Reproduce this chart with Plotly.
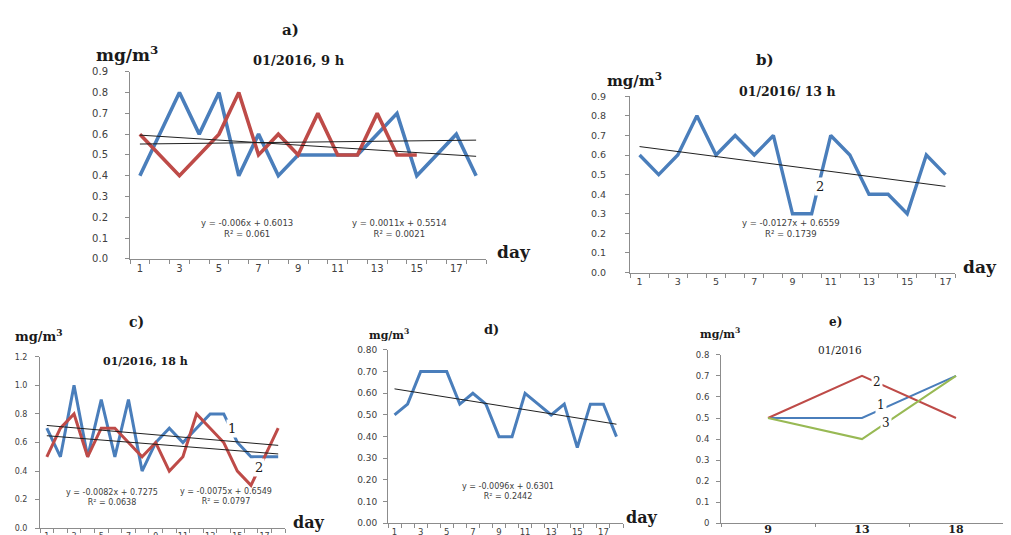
import plotly.graph_objects as go

W, H = 1011, 535

# ---------------- data ----------------
days_a = list(range(1, 19))
a_blue = [0.4, 0.6, 0.8, 0.6, 0.8, 0.4, 0.6, 0.4, 0.5, 0.5, 0.5, 0.5, 0.6, 0.7, 0.4, 0.5, 0.6, 0.4]
days_a_red = list(range(1, 16))
a_red = [0.6, 0.5, 0.4, 0.5, 0.6, 0.8, 0.5, 0.6, 0.5, 0.7, 0.5, 0.5, 0.7, 0.5, 0.5]
a_trend = [(-0.006, 0.6013), (0.0011, 0.5514)]
a_eq = ["y = -0.006x + 0.6013<br>R² = 0.061", "y = 0.0011x + 0.5514<br>R² = 0.0021"]

days_b = list(range(1, 18))
b_blue = [0.6, 0.5, 0.6, 0.8, 0.6, 0.7, 0.6, 0.7, 0.3, 0.3, 0.7, 0.6, 0.4, 0.4, 0.3, 0.6, 0.5]
b_trend = (-0.0127, 0.6559)
b_eq = "y = -0.0127x + 0.6559<br>R² = 0.1739"

days_c = list(range(1, 19))
c_blue = [0.7, 0.5, 1.0, 0.5, 0.9, 0.5, 0.9, 0.4, 0.6, 0.7, 0.6, 0.7, 0.8, 0.8, 0.6, 0.5, 0.5, 0.5]
c_red = [0.5, 0.7, 0.8, 0.5, 0.7, 0.7, 0.6, 0.5, 0.6, 0.4, 0.5, 0.8, 0.7, 0.6, 0.4, 0.3, 0.5, 0.7]
c_trend = [(-0.0082, 0.7275), (-0.0075, 0.6549)]
c_eq = ["y = -0.0082x + 0.7275<br>R² = 0.0638", "y = -0.0075x + 0.6549<br>R² = 0.0797"]

days_d = list(range(1, 19))
d_blue = [0.50, 0.55, 0.70, 0.70, 0.70, 0.55, 0.60, 0.55, 0.40, 0.40, 0.60, 0.55, 0.50, 0.55, 0.35, 0.55, 0.55, 0.40]
d_trend = (-0.0096, 0.6301)
d_eq = "y = -0.0096x + 0.6301<br>R² = 0.2442"

hours_e = ["9", "13", "18"]
e_s1 = [0.5, 0.5, 0.7]
e_s2 = [0.5, 0.7, 0.5]
e_s3 = [0.5, 0.4, 0.7]

BLUE = "#4A7EBB"
RED = "#BE4B48"
GREEN = "#98B954"
AXC = "#8C8C8C"
TXT = "#404040"
SERIF = "DejaVu Serif"
SANS = "DejaVu Sans"


def pp(x, y):
    return x / W, 1 - y / H


def trend_pts(days, coef):
    m, b = coef
    xs = [days[0], days[-1]]
    return xs, [m * x + b for x in xs]


fig = go.Figure()


def line(x, y, ax, color, width=3.2):
    fig.add_trace(go.Scatter(x=x, y=y, xaxis="x" + ax, yaxis="y" + ax, mode="lines",
                             line=dict(color=color, width=width), hoverinfo="skip"))


def trend(days, coef, ax):
    xs, ys = trend_pts(days, coef)
    fig.add_trace(go.Scatter(x=xs, y=ys, xaxis="x" + ax, yaxis="y" + ax, mode="lines",
                             line=dict(color="#202020", width=1), hoverinfo="skip"))


# panel a
line(days_a, a_blue, "", BLUE, 3.6)
line(days_a_red, a_red, "", RED, 3.6)
for c in a_trend:
    trend(days_a, c, "")
# panel b
line(days_b, b_blue, "2", BLUE, 3.4)
trend(days_b, b_trend, "2")
# panel c
line(days_c, c_blue, "3", BLUE, 3)
line(days_c, c_red, "3", RED, 3)
for c in c_trend:
    trend(days_c, c, "3")
# panel d
line(days_d, d_blue, "4", BLUE, 3)
trend(days_d, d_trend, "4")
# panel e
line(hours_e, e_s1, "5", BLUE, 2)
line(hours_e, e_s2, "5", RED, 2)
line(hours_e, e_s3, "5", GREEN, 2)


def day_xaxis(x0, x1, ndays, yname, fsize):
    return dict(domain=[x0 / W, x1 / W], range=[0.5, ndays + 0.5], anchor=yname,
                tickmode="array", tickvals=list(range(1, ndays + 1, 2)), ticks="",
                minor=dict(tickmode="linear", tick0=0.5, dtick=1, ticks="outside",
                           ticklen=4, tickcolor=AXC, tickwidth=1),
                showline=True, linecolor=AXC, linewidth=1, showgrid=False, zeroline=False,
                tickfont=dict(family=SANS, size=fsize, color=TXT), fixedrange=True)


def val_yaxis(y0, y1, top, dt, fmt, xname, fsize, standoff):
    return dict(domain=[1 - y0 / H, 1 - y1 / H], range=[0, top], anchor=xname,
                tickmode="linear", tick0=0, dtick=dt, tickformat=fmt, ticks="outside",
                ticklen=4, tickcolor=AXC, showline=True, linecolor=AXC, linewidth=1,
                showgrid=False, zeroline=False, ticklabelstandoff=standoff,
                tickfont=dict(family=SANS, size=fsize, color=TXT), fixedrange=True)


layout = dict(
    width=W, height=H, margin=dict(l=0, r=0, t=0, b=0),
    paper_bgcolor="white", plot_bgcolor="white", showlegend=False,
    xaxis=day_xaxis(122, 478, 18, "y", 10),
    yaxis=val_yaxis(250, 59, 0.9, 0.1, ".1f", "x", 10, 15),
    xaxis2=day_xaxis(622, 947, 17, "y2", 9.5),
    yaxis2=val_yaxis(264, 84, 0.9, 0.1, ".1f", "x2", 9.5, 17),
    xaxis3=day_xaxis(32, 277, 18, "y3", 8),
    yaxis3=val_yaxis(525, 350, 1.2, 0.2, ".1f", "x3", 8, 6),
    xaxis4=day_xaxis(380, 615, 18, "y4", 8.5),
    yaxis4=val_yaxis(520, 343, 0.8, 0.1, ".2f", "x4", 9, 4),
    xaxis5=dict(domain=[713 / W, 995 / W], type="category", range=[-0.5, 2.5], anchor="y5",
                tickson="boundaries", ticks="outside", ticklen=3, tickcolor=AXC,
                showline=True, linecolor=AXC, showgrid=False, zeroline=False,
                ticklabelstandoff=-5,
                tickfont=dict(family=SERIF, size=11, color="#202020", weight="bold"), fixedrange=True),
    yaxis5=val_yaxis(520, 348, 0.8, 0.1, "", "x5", 8.5, 5),
)
fig.update_layout(**layout)

ann = []


def txt(x, y, s, size, family=SERIF, bold=True, color="#1a1a1a", xanchor="center"):
    px_, py_ = pp(x, y)
    ann.append(dict(x=px_, y=py_, xref="paper", yref="paper", text=s, showarrow=False,
                    xanchor=xanchor, yanchor="middle",
                    font=dict(family=family, size=size, color=color,
                              weight="bold" if bold else "normal")))


def eq(x, y, s, size=8.5):
    px_, py_ = pp(x, y)
    ann.append(dict(x=px_, y=py_, xref="paper", yref="paper", text=s, showarrow=False,
                    xanchor="center", yanchor="middle", align="center",
                    font=dict(family=SANS, size=size, color=TXT)))


def dlabel(x, y, ax, s, size=13):
    ann.append(dict(x=x, y=y, xref="x" + ax, yref="y" + ax, text=s, showarrow=False,
                    bgcolor="white", borderpad=1,
                    font=dict(family=SERIF, size=size, color="#1a1a1a")))


MG = "mg/m<sup>3</sup>"
# panel a
txt(282, 16, "a)", 15)
txt(119, 41, MG, 17)
txt(291, 47, "01/2016, 9 h", 13)
txt(506, 243, "day", 17)
eq(239, 219, a_eq[0])
eq(391, 219, a_eq[1])
# panel b
txt(757, 47, "b)", 15)
txt(626, 67, MG, 15)
txt(779, 79, "01/2016/ 13 h", 12.5)
txt(972, 258, "day", 17)
eq(783, 219, b_eq)
dlabel(10.45, 0.44, "2", "2")
# panel c
txt(128, 314, "c)", 14)
txt(31, 328, MG, 13)
txt(137, 355, "01/2016, 18 h", 11)
txt(301, 519, "day", 16)
eq(104, 494, c_eq[0], 8)
eq(218, 493, c_eq[1], 8)
dlabel(14.6, 0.70, "3", "1")
dlabel(16.6, 0.425, "3", "2")
# panel d
txt(483, 322, "d)", 13)
txt(381, 327, MG, 11)
txt(634, 514, "day", 16)
eq(500, 488, d_eq, 8)
# panel e
txt(827, 314, "e)", 12)
txt(712, 326, MG, 11)
txt(832, 343, "01/2016", 10.5, bold=False)
txt(1007, 516, "h", 11, bold=False)
dlabel(1.16, 0.67, "5", "2", 12)
dlabel(1.2, 0.563, "5", "1", 12)
dlabel(1.26, 0.474, "5", "3", 12)

fig.update_layout(annotations=ann)
fig.write_html("out.html")
